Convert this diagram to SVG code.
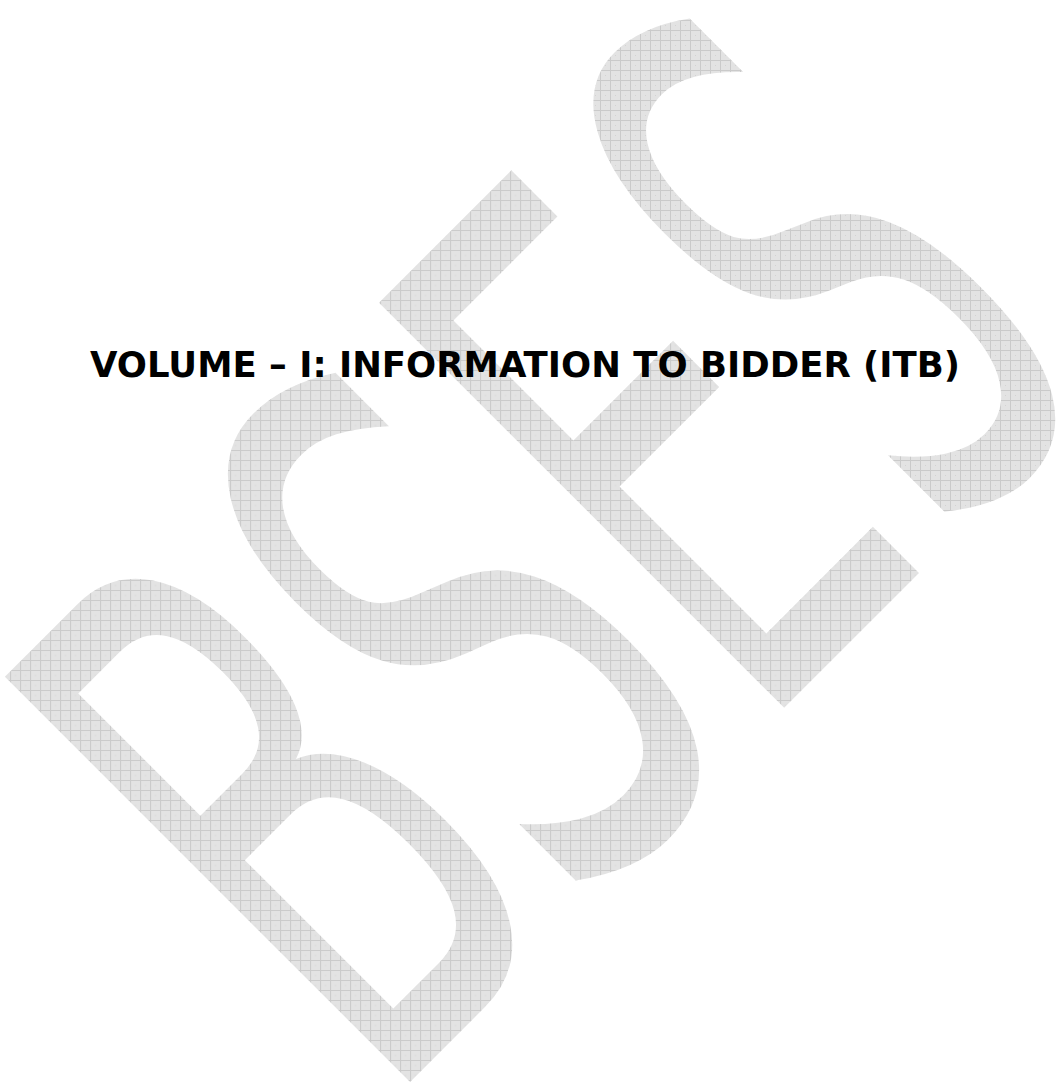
<svg xmlns="http://www.w3.org/2000/svg" width="1061" height="1089" viewBox="0 0 1061 1089">
  <defs>
    <pattern id="grid" patternUnits="userSpaceOnUse" width="10" height="10" patternTransform="scale(1.93611 1) rotate(45) translate(-746 -746)">
      <rect width="10" height="10" fill="#e3e3e3"/>
      <path d="M0 0.5H10M0.5 0V10" stroke="#cacaca" stroke-width="1" fill="none"/>
      <rect x="5" y="5" width="1" height="1" fill="#d3d3d3"/>
    </pattern>
    <pattern id="grid2" patternUnits="userSpaceOnUse" width="10" height="10" patternTransform="scale(2.17391 1) rotate(45) translate(-746 -746)">
      <rect width="10" height="10" fill="#e3e3e3"/>
      <path d="M0 0.5H10M0.5 0V10" stroke="#cacaca" stroke-width="1" fill="none"/>
      <rect x="5" y="5" width="1" height="1" fill="#d3d3d3"/>
    </pattern>
    <style>
      .wm { font-family: "DejaVu Sans", "Verdana", sans-serif; font-size: 786px; }
      .title { font-family: "DejaVu Sans", "Verdana", sans-serif; font-weight: bold; font-size: 35px; fill: #000000; }
    </style>
  </defs>
  <rect width="1061" height="1089" fill="#ffffff"/>
  <g id="watermark">
    <text class="wm" fill="url(#grid)" transform="translate(746 746) rotate(-45) scale(0.5165 1)" x="-997" y="0">BSE</text>
    <text class="wm" fill="url(#grid2)" transform="translate(746 746) rotate(-45) scale(0.46 1)" x="611" y="0">S</text>
  </g>
  <g id="title">
    <text class="title" x="90" y="377" textLength="870" lengthAdjust="spacingAndGlyphs">VOLUME – I: INFORMATION TO BIDDER (ITB)</text>
  </g>
</svg>
